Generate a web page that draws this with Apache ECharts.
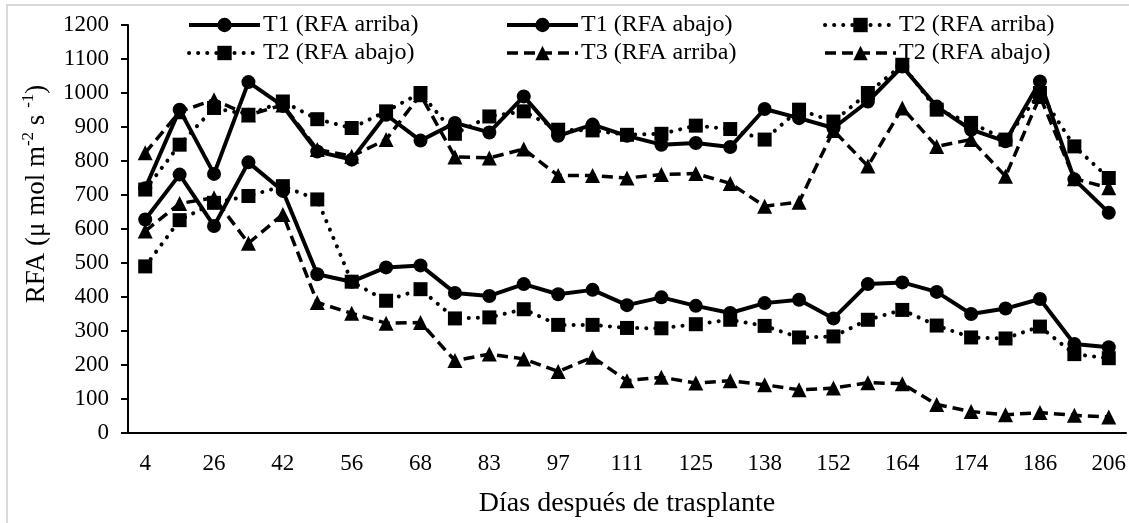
<!DOCTYPE html>
<html>
<head>
<meta charset="utf-8">
<script src="https://cdn.jsdelivr.net/npm/echarts@6/dist/echarts.min.js"></script>
<style>
  html, body { margin: 0; padding: 0; background: #fff; }
  #chart { width: 1129px; height: 523px; }
</style>
</head>
<body>
<div id="chart"></div>
<script>
// días después de trasplante (only every other label printed in the source)
const dias = ['4', '', '26', '', '42', '', '56', '', '68', '', '83', '', '97', '', '111', '',
  '125', '', '138', '', '152', '', '164', '', '174', '', '186', '', '206'];

const yTicks = [0, 1200, 100]; // min, max, step

const t1Arriba = [720, 951, 762, 1032, 962, 828, 804, 936, 860, 912, 884, 990, 874, 907, 874,
  848, 853, 841, 953, 926, 897, 975, 1078, 960, 892, 858, 1034, 746, 648];
const t1Abajo = [628, 760, 609, 796, 712, 467, 445, 487, 493, 412, 403, 438, 408, 421, 376,
  399, 374, 353, 382, 392, 337, 438, 443, 415, 350, 366, 394, 262, 252];
const t2Arriba = [716, 848, 956, 936, 975, 923, 897, 946, 1000, 880, 931, 946, 892, 890, 877,
  880, 904, 894, 863, 951, 916, 1000, 1083, 951, 912, 863, 1000, 843, 750];
const t2Abajo = [490, 626, 677, 697, 726, 687, 445, 389, 423, 337, 340, 364, 318, 318, 309,
  308, 320, 333, 315, 281, 284, 333, 362, 316, 281, 278, 313, 232, 220];
const t3Arriba = [824, 945, 980, 935, 965, 834, 814, 863, 995, 812, 809, 835, 757, 757, 750,
  760, 763, 734, 667, 679, 890, 785, 956, 843, 863, 755, 990, 748, 721];
const t3Abajo = [594, 675, 692, 558, 643, 384, 352, 323, 325, 213, 232, 218, 181, 223, 154,
  164, 147, 154, 142, 127, 132, 148, 145, 84, 63, 54, 60, 52, 47];

const serif = "'Times New Roman', 'Liberation Serif', serif";

// the source legend repeats "T2 (RFA abajo)" for the last series; trailing space keeps it separate
const names = ['T1 (RFA arriba)', 'T1 (RFA abajo)', 'T2 (RFA arriba)',
  'T2 (RFA abajo)', 'T3 (RFA arriba)', 'T2 (RFA abajo) '];

const solid = { color: '#000', width: 4 };
const dotted = { color: '#000', width: 4, type: [0.1, 9], cap: 'round' };
const dashed = { color: '#000', width: 3.5, type: [11, 6] };
const styles = [solid, solid, dotted, dotted, dashed, dashed];

function line(i, data, symbol, size) {
  return {
    name: names[i],
    type: 'line',
    data: data,
    symbol: symbol,
    symbolSize: size,
    itemStyle: { color: '#000' },
    lineStyle: styles[i],
    animation: false
  };
}

function legendCol(left, idx) {
  return {
    orient: 'vertical',
    left: left,
    top: 13,
    padding: 0,
    data: idx.map(i => ({ name: names[i], lineStyle: styles[i] })),
    itemWidth: 71,
    itemHeight: 18,
    itemGap: 4,
    textStyle: { fontFamily: serif, fontSize: 24, color: '#000', lineHeight: 24, padding: [0, 0, 0, -2] }
  };
}

const chart = echarts.init(document.getElementById('chart'));
chart.setOption({
  backgroundColor: '#fff',
  animation: false,
  grid: { left: 128, right: 2, top: 25, bottom: 89 },
  legend: [
    legendCol(187, [0, 3]),
    legendCol(505, [1, 4]),
    legendCol(823, [2, 5])
  ],
  graphic: [
    {
      type: 'rect',
      shape: { x: 7, y: 5, width: 1140, height: 540 },
      style: { fill: 'none', stroke: '#d9d9d9', lineWidth: 2 },
      silent: true
    },
    {
      type: 'text',
      x: 35,
      y: 194,
      rotation: Math.PI / 2,
      style: {
        text: '{a|RFA (μ mol m}{s|-2}{a| s }{s|-1}{a|)}',
        align: 'center',
        verticalAlign: 'middle',
        fill: '#000',
        rich: {
          a: { fontFamily: serif, fontSize: 27, lineHeight: 30, verticalAlign: 'bottom' },
          s: { fontFamily: serif, fontSize: 17, lineHeight: 30, verticalAlign: 'top' }
        }
      }
    }
  ],
  xAxis: {
    type: 'category',
    data: dias,
    boundaryGap: true,
    name: 'Días después de trasplante',
    nameLocation: 'middle',
    nameGap: 57,
    nameTextStyle: { fontFamily: serif, fontSize: 28, color: '#000' },
    axisLine: { lineStyle: { color: '#000', width: 2 } },
    axisTick: { alignWithLabel: true, interval: 0, length: 6, lineStyle: { color: '#000', width: 2 } },
    axisLabel: { interval: 0, margin: 19, fontFamily: serif, fontSize: 23, color: '#000' },
    splitLine: { show: false }
  },
  yAxis: {
    type: 'value',
    min: yTicks[0],
    max: yTicks[1],
    interval: yTicks[2],
    axisLine: { show: true, lineStyle: { color: '#000', width: 2 } },
    axisTick: { show: true, length: 7, lineStyle: { color: '#000', width: 2 } },
    axisLabel: { margin: 19, fontFamily: serif, fontSize: 23, color: '#000', formatter: v => String(v) },
    splitLine: { show: false }
  },
  series: [
    line(0, t1Arriba, 'circle', 14),
    line(1, t1Abajo, 'circle', 14),
    line(2, t2Arriba, 'rect', 14),
    line(3, t2Abajo, 'rect', 14),
    line(4, t3Arriba, 'triangle', 15),
    line(5, t3Abajo, 'triangle', 15)
  ]
});
</script>
</body>
</html>
